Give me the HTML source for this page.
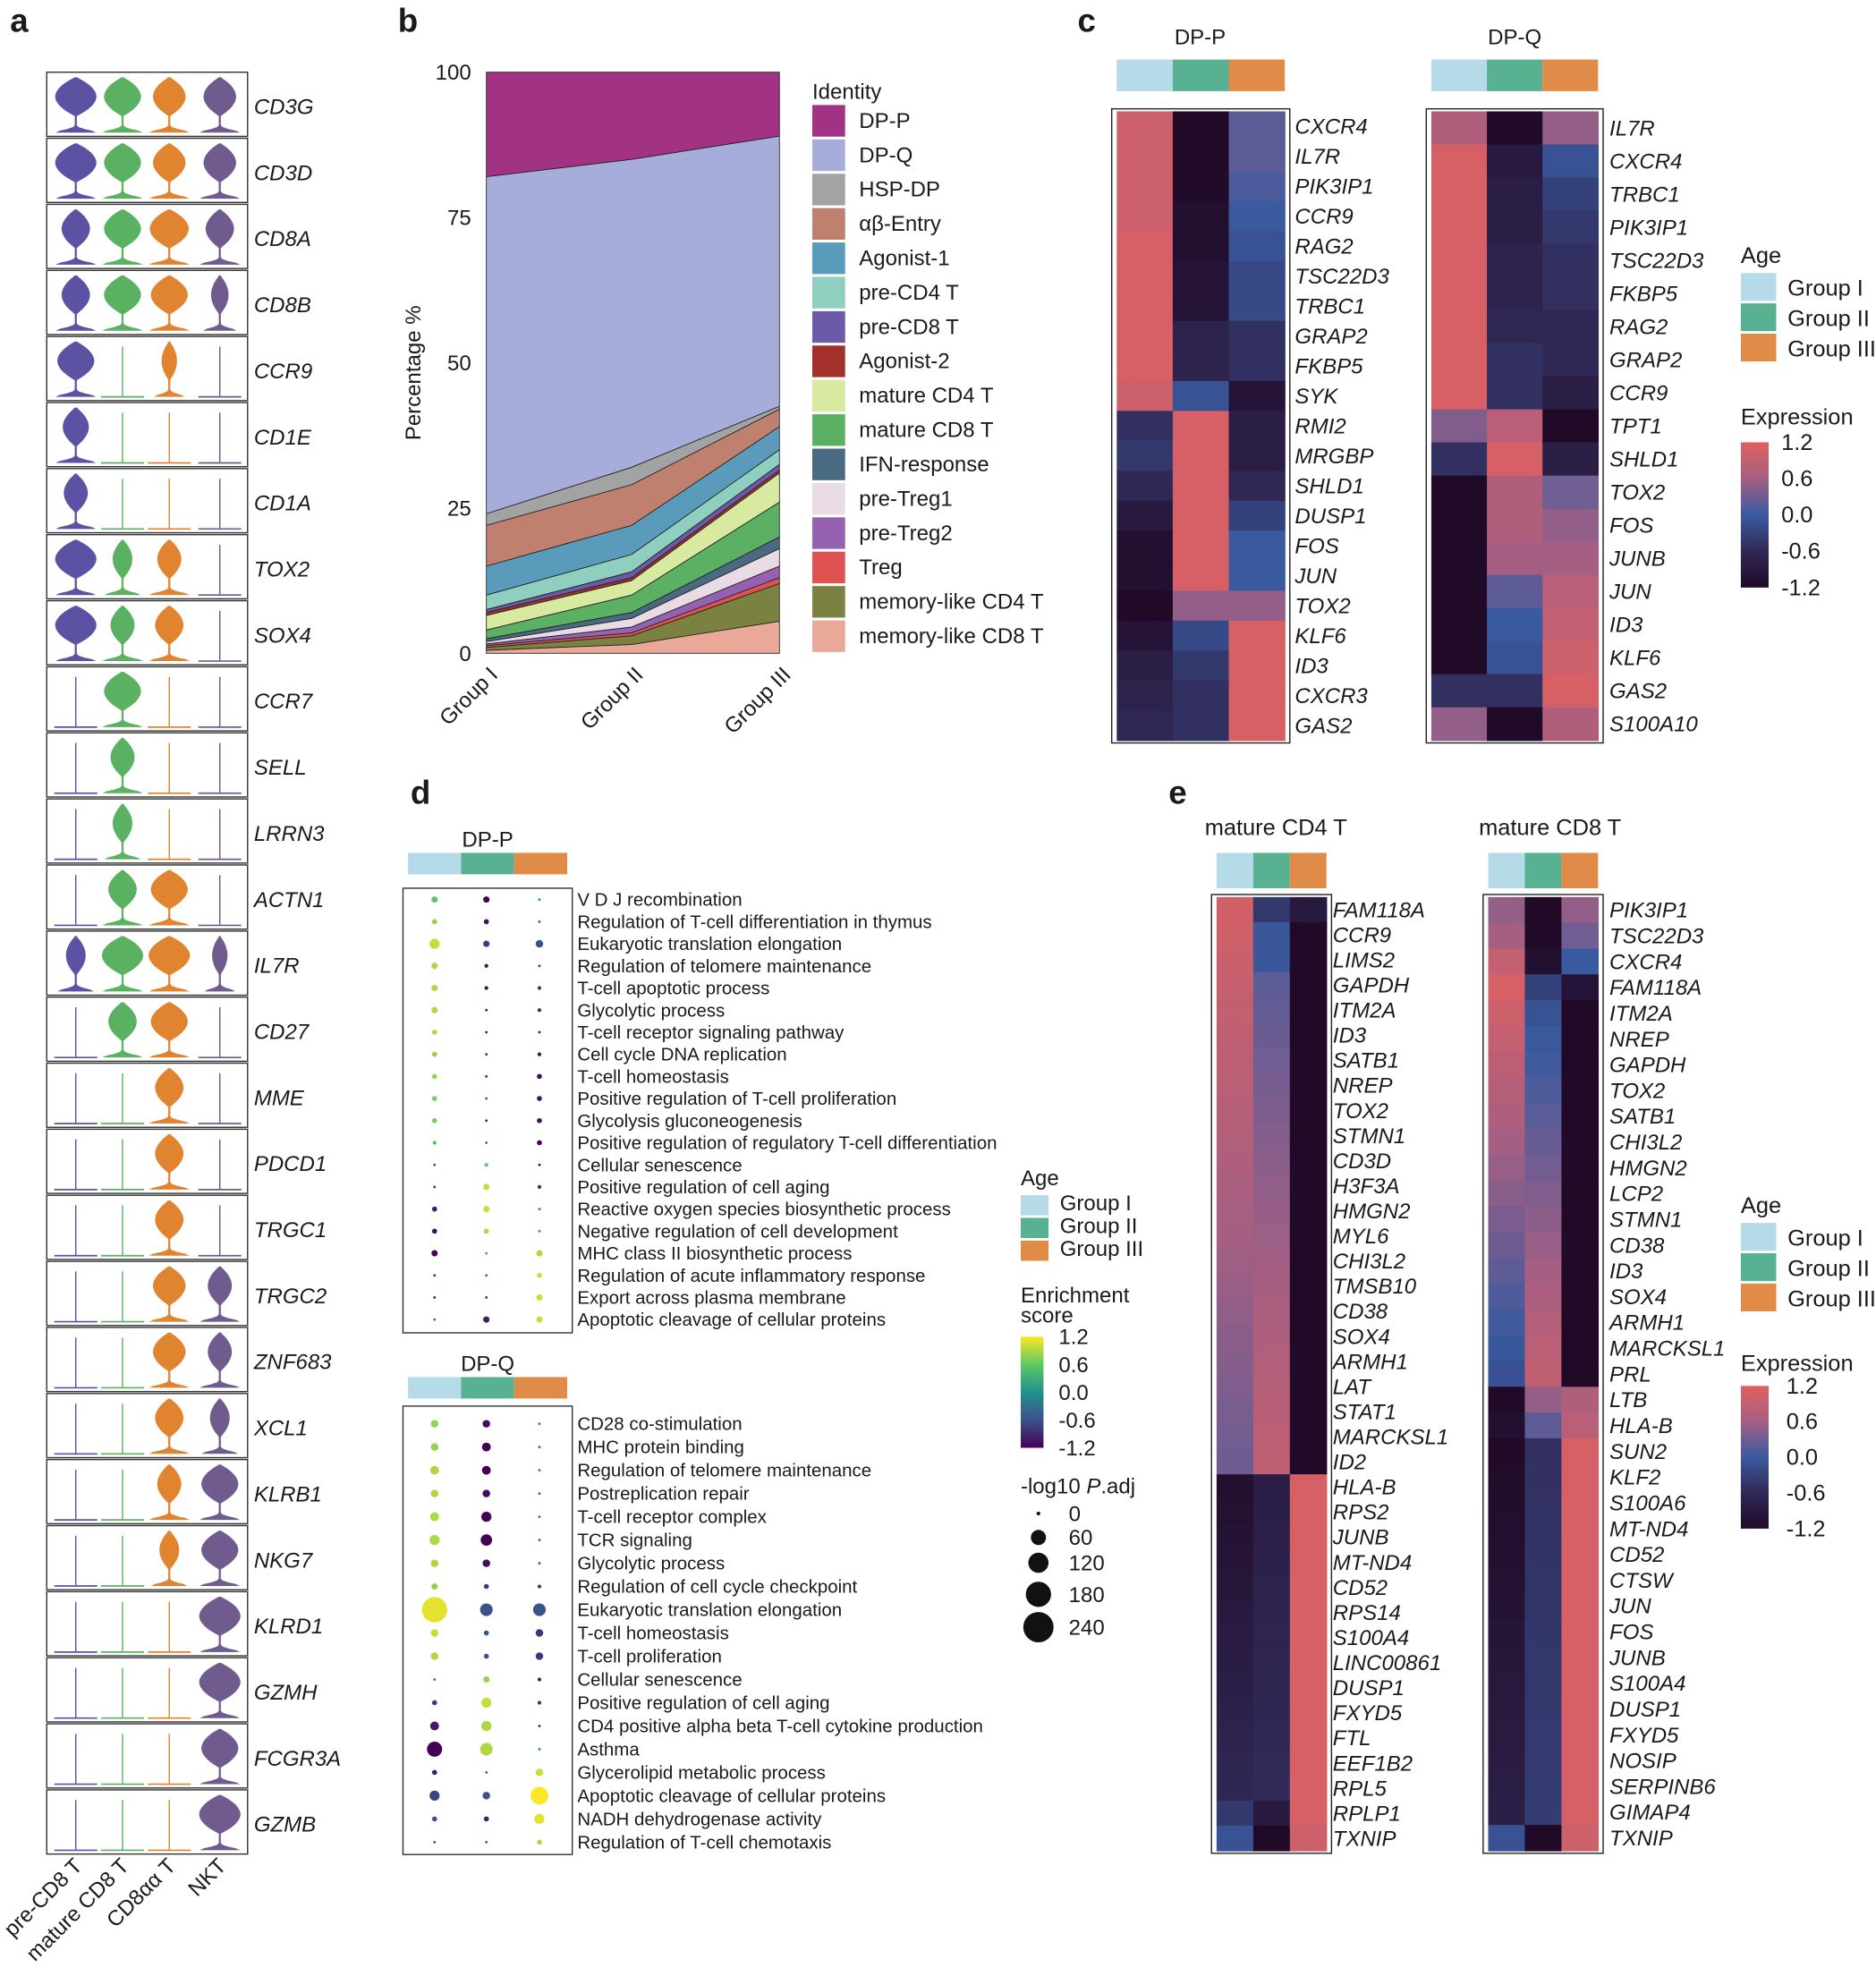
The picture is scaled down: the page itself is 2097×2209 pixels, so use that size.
<!DOCTYPE html>
<html><head><meta charset="utf-8"><style>
html,body{margin:0;padding:0;background:#fff}
svg{display:block}
text{font-family:"Liberation Sans",Arial,sans-serif;fill:#1a1a1a}
</style></head><body>
<svg id="s" width="2097" height="2209" viewBox="0 0 1485 1564" xmlns="http://www.w3.org/2000/svg"></svg>
<script>
const S=document.getElementById('s');let H='';
function t(x,y,s,o){o=o||{};H+=`<text x="${x}" y="${y}" font-size="${o.fs||17}" ${o.a?`text-anchor="${o.a}"`:''} ${o.it?'font-style="italic"':''} ${o.b?'font-weight="bold"':''} ${o.tr?`transform="${o.tr}"`:''}>${s}</text>`;}
function r(x,y,w,h,f,st){H+=`<rect x="${x}" y="${y}" width="${w}" height="${h}" fill="${f}" ${st?`stroke="${st}" stroke-width="1"`:''}/>`;}
function lerpc(stops,v){v=Math.max(-1.2,Math.min(1.2,v));let p=(v+1.2)/2.4*(stops.length-1);let i=Math.min(stops.length-2,Math.floor(p)),f=p-i;let a=stops[i],b=stops[i+1];return `rgb(${[0,1,2].map(k=>Math.round(a[k]+(b[k]-a[k])*f)).join(',')})`;}
const HM=[[32,10,40],[48,40,84],[58,90,160],[165,95,130],[224,96,96]];
const VI=[[68,1,84],[59,82,139],[33,145,140],[94,201,98],[253,231,37]];
t(8,25,'a',{fs:26,b:1});t(315,25,'b',{fs:26,b:1});t(853,25,'c',{fs:26,b:1});t(325,636,'d',{fs:26,b:1});t(925,636,'e',{fs:26,b:1});
// ---- panel a
const genes=['CD3G','CD3D','CD8A','CD8B','CCR9','CD1E','CD1A','TOX2','SOX4','CCR7','SELL','LRRN3','ACTN1','IL7R','CD27','MME','PDCD1','TRGC1','TRGC2','ZNF683','XCL1','KLRB1','NKG7','KLRD1','GZMH','FCGR3A','GZMB'];
const W=[[.9,.8,.7,.7],[.9,.8,.7,.7],[.6,.8,.85,.6],[.6,.8,.8,.35],[.8,0,.3,0],[.55,0,0,0],[.5,0,0,0],[.9,.4,.5,0],[.9,.5,.6,0],[0,.8,0,0],[0,.5,0,0],[0,.4,0,0],[0,.6,.8,0],[.4,.9,.9,.3],[0,.6,.8,0],[0,0,.6,0],[0,0,.6,0],[0,0,.6,0],[0,0,.7,.5],[0,0,.7,.5],[0,0,.6,.4],[0,0,.5,.8],[0,0,.4,.8],[0,0,0,.9],[0,0,0,.9],[0,0,0,.8],[0,0,0,.9]];
const VC=['#5b52a3','#5bb162','#e0842f','#6f5b8e'];const CX=[60,97,134,174];
const y0=57,rh=52.3;
genes.forEach((g,i)=>{const top=y0+i*rh,bot=top+rh-1.5;r(37,top,159,rh-1.5,'none','#333');
 t(201,top+rh/2+7,g,{it:1});
 W[i].forEach((w,j)=>{const cx=CX[j];const c=VC[j];
  if(w<0.1){H+=`<line x1="${cx}" y1="${top+8}" x2="${cx}" y2="${bot-3}" stroke="${c}" stroke-width="1"/><line x1="${cx-17}" y1="${bot-3}" x2="${cx+17}" y2="${bot-3}" stroke="${c}" stroke-width="1.2"/>`;return;}
  const hw=17*w+1,bt=top+4,bb=bot-3,L=bb-bt;
  let pts=[];const N=30;
  for(let k=0;k<=N;k++){const u=k/N;const y=bt+u*L;
   const bulb=hw*Math.pow(Math.sin(Math.min(1,u/0.7)*Math.PI),0.8)*(u<0.7?1:0);
   const base=16*Math.exp(-Math.pow((1-u)/0.07,2))*Math.min(1,w*1.5+.3);
   pts.push([Math.max(bulb,base,0.8),y]);}
  let d='M'+cx+','+bt;pts.forEach(p=>d+=` L${(cx+p[0]).toFixed(1)},${p[1].toFixed(1)}`);
  for(let k=pts.length-1;k>=0;k--)d+=` L${(cx-pts[k][0]).toFixed(1)},${pts[k][1].toFixed(1)}`;
  H+=`<path d="${d}Z" fill="${c}"/>`;});
});
['pre-CD8 T','mature CD8 T','CD8αα T','NKT'].forEach((s,j)=>t(CX[j]+6,1478,s,{a:'end',tr:`rotate(-45 ${CX[j]+6} 1478)`}));
// ---- panel b
const ord=[['DP-P','#a23384'],['DP-Q','#a7addb'],['HSP-DP','#a3a3a3'],['αβ-Entry','#c0806f'],['Agonist-1','#5a9bbb'],['pre-CD4 T','#8fcfbf'],['pre-CD8 T','#6a5aa8'],['Agonist-2','#a3302a'],['mature CD4 T','#d8eaa0'],['mature CD8 T','#5bb064'],['IFN-response','#4a6a82'],['pre-Treg1','#e9dbe4'],['pre-Treg2','#9462b0'],['Treg','#e05252'],['memory-like CD4 T','#7b8140'],['memory-like CD8 T','#e9a898']];
const cum=[[100,82,24,22,15,10,7.5,7,6.5,4,2.5,2,1.6,1.3,1,.5],[100,85,32,29,22,17,14,13,12.5,10,7,6,4.5,3.5,3,1.5],[100,89,42.5,42,39,35,32.5,31.5,31,26,20,18,15,13,12,5.5]];
const GX=[385,500,617],Y=v=>517-v*4.6;
ord.forEach((o,k)=>{const top=cum.map(c=>c[k]);const lo=cum.map(c=>k<15?c[k+1]:0);
 let d=`M${GX[0]},${Y(top[0])} L${GX[1]},${Y(top[1])} L${GX[2]},${Y(top[2])} L${GX[2]},${Y(lo[2])} L${GX[1]},${Y(lo[1])} L${GX[0]},${Y(lo[0])}Z`;
 H+=`<path d="${d}" fill="${o[1]}" stroke="#222" stroke-width="0.6"/>`;});
[100,75,50,25,0].forEach(v=>t(373,Y(v)+6,v,{a:'end'}));
t(333,295,'Percentage %',{a:'middle',tr:'rotate(-90 333 295)'});
['Group I','Group II','Group III'].forEach((s,j)=>t(GX[j]+10,535,s,{a:'end',tr:`rotate(-45 ${GX[j]+10} 535)`}));
t(643,78,'Identity');
ord.forEach((o,k)=>{r(643,83+k*27.2,26,25,o[1]);t(680,101+k*27.2,o[0]);});
// ---- heatmaps
const AG=['#b5dbe8','#58b190','#e08b48'];
function heat(x,y,w,h,rows,vals,labs,lx,title,tx){const cw=w/3,rr=h/rows;
 if(title){t(tx,35,title,{a:'middle'});}
 vals.forEach((v,i)=>v.forEach((c,j)=>r(x+j*cw,y+i*rr,cw+.5,rr+.5,lerpc(HM,c))));
 r(x-4,y-2,w+8,h+4,'none','#222');
 labs.forEach((l,i)=>t(lx,y+i*rr+rr/2+6,l,{it:1}));}
function agebar(x,y,w,h){AG.forEach((c,j)=>r(x+j*w/3,y,w/3,h,c));}
const dpp=[[1,-1.2,.2],[1,-1.2,.2],[1,-1.2,.1],[1,-1.1,0],[1.1,-1.1,-.1],[1.1,-1,-.2],[1.1,-1,-.2],[1.1,-.7,-.5],[1.1,-.7,-.5],[1,-.1,-1],[-.5,1.1,-.8],[-.4,1.1,-.8],[-.6,1.1,-.6],[-.9,1.1,-.3],[-1.1,1.1,0],[-1.1,1.1,0],[-1.2,.5,.5],[-1,-.2,1.1],[-.8,-.4,1.1],[-.7,-.5,1.1],[-.6,-.5,1.1]];
agebar(884,47,133,25);
heat(884,88,133,498,21,dpp,['CXCR4','IL7R','PIK3IP1','CCR9','RAG2','TSC22D3','TRBC1','GRAP2','FKBP5','SYK','RMI2','MRGBP','SHLD1','DUSP1','FOS','JUN','TOX2','KLF6','ID3','CXCR3','GAS2'],1025,'DP-P',950);
const dpq=[[.7,-1.2,.5],[1.1,-.9,-.1],[1.1,-.8,-.3],[1.1,-.8,-.4],[1.1,-.7,-.5],[1.1,-.7,-.5],[1.1,-.6,-.6],[1.1,-.5,-.6],[1.1,-.5,-.8],[.4,.8,-1.2],[-.5,1.1,-.8],[-1.2,.7,.3],[-1.2,.7,.5],[-1.2,.6,.6],[-1.2,.2,.8],[-1.2,0,.9],[-1.2,-.1,1],[-.5,-.5,1.1],[.5,-1.2,.7]];
agebar(1133,47,132,25);
heat(1133,88,132,498,19,dpq,['IL7R','CXCR4','TRBC1','PIK3IP1','TSC22D3','FKBP5','RAG2','GRAP2','CCR9','TPT1','SHLD1','TOX2','FOS','JUNB','JUN','ID3','KLF6','GAS2','S100A10'],1274,'DP-Q',1199);
function ageLeg(x,y,sw,sh,gap,fs){t(x,y,'Age',{fs:fs});['Group I','Group II','Group III'].forEach((g,j)=>{r(x,y+8+j*gap,sw,sh,AG[j]);t(x+sw+9,y+8+j*gap+sh-4,g,{fs:fs});});}
function cbar(x,y,w,h,st,labs,lx,fs){const id='g'+Math.round(x)+Math.round(y);H+=`<defs><linearGradient id="${id}" x1="0" y1="0" x2="0" y2="1">${st.slice().reverse().map((c,i)=>`<stop offset="${i/(st.length-1)}" stop-color="rgb(${c})"/>`).join('')}</linearGradient></defs>`;r(x,y,w,h,`url(#${id})`);labs.forEach((l,i)=>t(lx,y+i*h/4+6,l,{fs:fs}));}
ageLeg(1378,208,28,22,24,18);
t(1378,336,'Expression',{fs:18});cbar(1378,350,22,115,HM,['1.2','0.6','0.0','-0.6','-1.2'],1410,18);
// ---- panel e
const cd4l=['FAM118A','CCR9','LIMS2','GAPDH','ITM2A','ID3','SATB1','NREP','TOX2','STMN1','CD3D','H3F3A','HMGN2','MYL6','CHI3L2','TMSB10','CD38','SOX4','ARMH1','LAT','STAT1','MARCKSL1','ID2','HLA-B','RPS2','JUNB','MT-ND4','CD52','RPS14','S100A4','LINC00861','DUSP1','FXYD5','FTL','EEF1B2','RPL5','RPLP1','TXNIP'];
const cd4=cd4l.map((_,i)=>{if(i<23){const II=i<3?[-.4,-.05,-.05][i]:0.2+(i-3)*0.035;return[1.05-i*.035,II,i==0?-.9:-1.2];}if(i==37)return[-.1,-1.2,1.0];if(i==36)return[-.4,-.9,1.1];const k=i-23;return[-1.1+k*.04,-.8+k*.02,1.1];});
t(1010,661,'mature CD4 T',{a:'middle',fs:18});agebar(963,675,87,28);
heat(963,710,87,755,38,cd4,cd4l,1055);
const cd8l=['PIK3IP1','TSC22D3','CXCR4','FAM118A','ITM2A','NREP','GAPDH','TOX2','SATB1','CHI3L2','HMGN2','LCP2','STMN1','CD38','ID3','SOX4','ARMH1','MARCKSL1','PRL','LTB','HLA-B','SUN2','KLF2','S100A6','MT-ND4','CD52','CTSW','JUN','FOS','JUNB','S100A4','DUSP1','FXYD5','NOSIP','SERPINB6','GIMAP4','TXNIP'];
const cd8=cd8l.map((_,i)=>{const pre=[[.5,-1.2,.5],[.6,-1.2,.3],[.9,-1.1,0],[1.1,-.3,-1]];if(i<4)return pre[i];if(i<19)return[1.0-(i-4)*.08,-.1+(i-4)*.07,-1.2];if(i==19)return[-1.2,.5,.7];if(i==20)return[-1.1,.2,.8];if(i==36)return[-.1,-1.2,1];const k=i-21;return[-1.2+k*.03,-.5+k*.01,1.1];});
t(1227,661,'mature CD8 T',{a:'middle',fs:18});agebar(1178,675,87,28);
heat(1178,710,87,755,37,cd8,cd8l,1274);
ageLeg(1378,960,28,22,24,18);
t(1378,1085,'Expression',{fs:18});cbar(1378,1097,22,113,HM,['1.2','0.6','0.0','-0.6','-1.2'],1414,18);
// ---- panel d
const DX=[344,385,427];
function dots(y0,sp,terms,data,boxTop,boxBot,title){agebar(323,y0-37,126,17);t(386,y0-42,title,{a:'middle'});
 r(319,boxTop,134,boxBot-boxTop,'none','#333');
 terms.forEach((s,i)=>{const y=y0+i*sp;t(457,y+5,s,{fs:14.5});data[i].forEach((d,j)=>H+=`<circle cx="${DX[j]}" cy="${y}" r="${d[1]}" fill="${lerpc(VI,d[0])}"/>`);});}
const pT=['V D J recombination','Regulation of T-cell differentiation in thymus','Eukaryotic translation elongation','Regulation of telomere maintenance','T-cell apoptotic process','Glycolytic process','T-cell receptor signaling pathway','Cell cycle DNA replication','T-cell homeostasis','Positive regulation of T-cell proliferation','Glycolysis gluconeogenesis','Positive regulation of regulatory T-cell differentiation','Cellular senescence','Positive regulation of cell aging','Reactive oxygen species biosynthetic process','Negative regulation of cell development','MHC class II biosynthetic process','Regulation of acute inflammatory response','Export across plasma membrane','Apoptotic cleavage of cellular proteins'];
const pD=[[[.6,2.5],[-1.2,2.5],[0,1]],[[.8,2],[-1.1,2],[-.6,1]],[[1,4],[-.8,2.5],[-.6,3]],[[.9,2.5],[-1.1,1.5],[-.8,1]],[[.9,2.5],[-1.1,1.5],[-.8,1.5]],[[.9,2.5],[-1,1],[-.9,1.5]],[[.9,2],[-1,1],[-1,1]],[[.8,2],[-.9,1],[-1.1,1.5]],[[.8,2],[-.9,1],[-1.1,2]],[[.7,2],[-.5,1],[-1.1,2]],[[.7,2],[-1,1],[-1.1,2]],[[.5,1.5],[-.3,1],[-1.2,2]],[[-.5,1],[.6,1.5],[-1.1,1]],[[-.8,1],[1,2.5],[-.9,1.5]],[[-1,2],[1,2.5],[-.2,1]],[[-1.1,2],[.9,2],[.1,1]],[[-1.2,2.5],[.3,1],[.9,2.5]],[[-.9,1],[-.3,1],[1,2]],[[-.9,1],[-.8,1],[1,2.5]],[[-.2,1],[-1,2.5],[1,2.5]]];
dots(712,17.5,pT,pD,703,1055,'DP-P');
const qT=['CD28 co-stimulation','MHC protein binding','Regulation of telomere maintenance','Postreplication repair','T-cell receptor complex','TCR signaling','Glycolytic process','Regulation of cell cycle checkpoint','Eukaryotic translation elongation','T-cell homeostasis','T-cell proliferation','Cellular senescence','Positive regulation of cell aging','CD4 positive alpha beta T-cell cytokine production','Asthma','Glycerolipid metabolic process','Apoptotic cleavage of cellular proteins','NADH dehydrogenase activity','Regulation of T-cell chemotaxis'];
const qD=[[[.8,3],[-1.1,3],[0,1]],[[.8,3],[-1.2,3.5],[-.3,1]],[[.9,3.5],[-1.2,3.5],[-.2,1]],[[.9,3],[-1.1,3],[-.3,1]],[[.9,3.5],[-1.2,4],[-.2,1]],[[.9,4],[-1.2,4.5],[-.2,1]],[[.9,3],[-1.1,3],[-.4,1]],[[.8,2.5],[-.8,2],[-.8,1.5]],[[1.1,10],[-.6,5],[-.6,5]],[[1,3],[-.6,2],[-.8,3]],[[.9,3],[-.6,2],[-.8,3]],[[-.3,1],[.8,2.5],[-.9,1.5]],[[-.8,2],[1,4],[-.8,1.5]],[[-1,3.5],[.9,4],[-.8,1]],[[-1.2,6],[.9,5],[0,1]],[[-1,2],[-.4,1],[1,3]],[[-.7,4],[-.6,3],[1.2,7]],[[-.6,2],[-1,2],[1.1,4]],[[-.6,1],[-.5,1],[.9,2]]];
dots(1127,18.4,qT,qD,1113,1468,'DP-Q');
ageLeg(808,938,22,16,18,17);
t(808,1031,'Enrichment',{fs:17});t(808,1047,'score',{fs:17});
cbar(808,1058,18,88,VI,['1.2','0.6','0.0','-0.6','-1.2'],838,17);
t(808,1182,'-log10 <tspan font-style="italic">P</tspan>.adj',{fs:17});
[[1198,1.5,'0'],[1217,6,'60'],[1237,8,'120'],[1262,10,'180'],[1288,12,'240']].forEach(d=>{H+=`<circle cx="822" cy="${d[0]}" r="${d[1]}" fill="#111"/>`;t(846,d[0]+6,d[2],{fs:17});});
S.innerHTML=H;
</script>
</body></html>
